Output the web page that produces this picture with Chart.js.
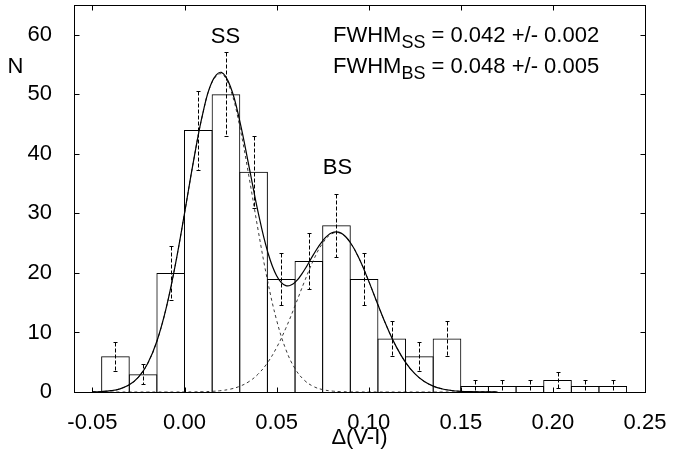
<!DOCTYPE html>
<html>
<head>
<meta charset="utf-8">
<script src="https://cdn.jsdelivr.net/npm/chart.js@4.4.0/dist/chart.umd.min.js"></script>
<style>
  html, body { margin: 0; padding: 0; background: #fff; }
</style>
</head>
<body>
<canvas id="myChart" width="678" height="460"></canvas>
<script>
// histogram: bin centres (width 0.015), counts, poisson errors
var binCenters = [-0.0375, -0.0225, -0.0075, 0.0075, 0.0225, 0.0375, 0.0525, 0.0675, 0.0825, 0.0975,
                  0.1125, 0.1275, 0.1425, 0.1575, 0.1725, 0.1875, 0.2025, 0.2175, 0.2325];
var counts = [6, 3, 20, 44, 50, 37, 19, 22, 28, 19, 9, 6, 9, 1, 1, 1, 2, 1, 1];
var errors = [2.45, 1.73, 4.47, 6.63, 7.07, 6.08, 4.36, 4.69, 5.29, 4.36, 3.00, 2.45, 3.00,
              1.00, 1.00, 1.00, 1.41, 1.00, 1.00];

// fitted curves
var fitX = [-0.05, -0.045, -0.04, -0.035, -0.03, -0.025, -0.02, -0.015, -0.01, -0.005,
            0, 0.005, 0.01, 0.015, 0.02, 0.025, 0.03, 0.035, 0.04, 0.045,
            0.05, 0.055, 0.06, 0.065, 0.07, 0.075, 0.08, 0.085, 0.09, 0.095,
            0.1, 0.105, 0.11, 0.115, 0.12, 0.125, 0.13, 0.135, 0.14, 0.145,
            0.15, 0.155, 0.16, 0.165, 0.17];
var ssFit = [0.03, 0.08, 0.22, 0.53, 1.20, 2.49, 4.80, 8.53, 14.03, 21.34,
             29.99, 38.98, 46.84, 52.04, 53.45, 50.75, 44.55, 36.16, 27.12, 18.82,
             12.07, 7.15, 3.92, 1.99, 0.93, 0.40, 0.16, 0.06, 0.02, 0.01,
             0, 0, 0, 0, 0, 0, 0, 0, 0, 0,
             0, 0, 0, 0, 0];
var bsFit = [0, 0, 0, 0, 0, 0, 0, 0, 0, 0,
             0.01, 0.02, 0.05, 0.11, 0.24, 0.49, 0.96, 1.75, 3.02, 4.89,
             7.46, 10.71, 14.49, 18.46, 22.14, 25.00, 26.58, 26.62, 25.09, 22.27,
             18.62, 14.65, 10.86, 7.58, 4.98, 3.08, 1.79, 0.98, 0.51, 0.25,
             0.11, 0.05, 0.02, 0.01, 0];
var sumFit = [0.03, 0.08, 0.22, 0.53, 1.20, 2.49, 4.80, 8.53, 14.03, 21.34,
              30.00, 39.00, 46.89, 52.15, 53.69, 51.24, 45.51, 37.91, 30.14, 23.71,
              19.53, 17.86, 18.41, 20.45, 23.07, 25.40, 26.74, 26.68, 25.11, 22.28,
              18.62, 14.65, 10.86, 7.58, 4.98, 3.08, 1.79, 0.98, 0.51, 0.25,
              0.11, 0.05, 0.02, 0.01, 0];

var xTicks = [-0.05, 0.00, 0.05, 0.10, 0.15, 0.20, 0.25];
var yTicks = [0, 10, 20, 30, 40, 50, 60];

var FONT = "'Liberation Sans', Arial, Helvetica, sans-serif";

function pts(xs, ys) {
  var out = [];
  for (var i = 0; i < xs.length; i++) out.push({x: xs[i], y: ys[i]});
  return out;
}

// error bars, frame, inward ticks and labels
var decor = {
  id: 'decor',
  afterDatasetsDraw: function(chart) {
    var ctx = chart.ctx, xs = chart.scales.x, ys = chart.scales.y;
    ctx.save();
    ctx.strokeStyle = '#000';
    ctx.lineWidth = 1;
    for (var i = 0; i < binCenters.length; i++) {
      var px = Math.round(xs.getPixelForValue(binCenters[i])) + 0.5;
      var top = Math.round(ys.getPixelForValue(counts[i] + errors[i])) + 0.5;
      var bot = Math.round(ys.getPixelForValue(Math.max(0, counts[i] - errors[i]))) + 0.5;
      ctx.setLineDash([4, 2]);
      ctx.beginPath(); ctx.moveTo(px, top); ctx.lineTo(px, bot); ctx.stroke();
      ctx.setLineDash([]);
      ctx.beginPath();
      ctx.moveTo(px - 2, top); ctx.lineTo(px + 2, top);
      ctx.moveTo(px - 2, bot); ctx.lineTo(px + 2, bot);
      ctx.stroke();
    }
    ctx.restore();
  },
  afterDraw: function(chart) {
    var ctx = chart.ctx, a = chart.chartArea, xs = chart.scales.x, ys = chart.scales.y;
    var l = Math.round(a.left) + 0.5, r = Math.round(a.right) + 0.5;
    var t = Math.round(a.top) + 0.5, b = Math.round(a.bottom) + 0.5;
    ctx.save();
    ctx.strokeStyle = '#000';
    ctx.lineWidth = 1;
    ctx.strokeRect(l, t, r - l, b - t);
    ctx.beginPath();
    xTicks.forEach(function(v) {
      var p = Math.round(xs.getPixelForValue(v)) + 0.5;
      ctx.moveTo(p, b); ctx.lineTo(p, b - 5);
      ctx.moveTo(p, t); ctx.lineTo(p, t + 5);
    });
    yTicks.forEach(function(v) {
      var p = Math.round(ys.getPixelForValue(v)) + 0.5;
      ctx.moveTo(l, p); ctx.lineTo(l + 5, p);
      ctx.moveTo(r, p); ctx.lineTo(r - 5, p);
    });
    ctx.stroke();

    ctx.fillStyle = '#000';
    ctx.textBaseline = 'alphabetic';
    ctx.font = '22px ' + FONT;
    ctx.textAlign = 'center';
    ctx.fillText('N', 15.5, 73);
    ctx.fillText('SS', 225.5, 43);
    ctx.fillText('BS', 337.5, 174);

    // FWHM lines with subscripts
    function fwhm(sub, rest, x, y) {
      ctx.textAlign = 'left';
      ctx.font = '22px ' + FONT;
      ctx.fillText('FWHM', x, y);
      x += ctx.measureText('FWHM').width;
      ctx.font = '18px ' + FONT;
      ctx.fillText(sub, x, y + 6);
      x += ctx.measureText(sub).width;
      ctx.font = '22px ' + FONT;
      ctx.fillText(rest, x, y);
    }
    fwhm('SS', ' = 0.042 +/- 0.002', 333, 42);
    fwhm('BS', ' = 0.048 +/- 0.005', 333, 73);
    ctx.restore();
  }
};

var ctx = document.getElementById('myChart').getContext('2d');
var chart = new Chart(ctx, {
  type: 'bar',
  data: {
    datasets: [
      {
        type: 'line',
        data: pts(fitX, sumFit),
        borderColor: '#000',
        borderWidth: 1.2,
        pointRadius: 0,
        tension: 0.4,
        fill: false
      },
      {
        type: 'line',
        data: pts(fitX, ssFit),
        borderColor: '#222',
        borderWidth: 0.9,
        borderDash: [3, 3],
        pointRadius: 0,
        tension: 0.4,
        fill: false
      },
      {
        type: 'line',
        data: pts(fitX, bsFit),
        borderColor: '#222',
        borderWidth: 0.9,
        borderDash: [3, 3],
        pointRadius: 0,
        tension: 0.4,
        fill: false
      },
      {
        type: 'bar',
        data: pts(binCenters, counts),
        backgroundColor: 'rgba(0,0,0,0)',
        borderColor: '#000',
        borderWidth: 1,
        borderSkipped: 'start',
        barPercentage: 1.036,
        categoryPercentage: 1
      }
    ]
  },
  options: {
    responsive: false,
    animation: false,
    layout: { padding: { left: 0, top: 5, right: 33, bottom: 0 } },
    plugins: {
      legend: { display: false },
      tooltip: { enabled: false }
    },
    scales: {
      x: {
        type: 'linear',
        min: -0.06,
        max: 0.25,
        offset: false,
        grid: { display: false },
        border: { display: false },
        ticks: {
          color: '#000',
          font: { family: FONT, size: 22 },
          padding: 10,
          maxRotation: 0,
          callback: function(v) { return v.toFixed(2); }
        },
        title: {
          display: true,
          text: 'Δ(V-I)',
          color: '#000',
          font: { family: FONT, size: 22 },
          padding: { top: 0, bottom: 9 }
        },
        afterBuildTicks: function(s) { s.ticks = xTicks.map(function(v) { return {value: v}; }); },
        afterFit: function(s) { s.height = 68; s.paddingLeft = 0; s.paddingRight = 0; }
      },
      y: {
        min: 0,
        max: 65,
        grid: { display: false },
        border: { display: false },
        ticks: {
          color: '#000',
          font: { family: FONT, size: 22 },
          padding: 14
        },
        afterBuildTicks: function(s) { s.ticks = yTicks.map(function(v) { return {value: v}; }); },
        afterFit: function(s) { s.width = 74; s.paddingTop = 0; s.paddingBottom = 0; }
      }
    }
  },
  plugins: [decor]
});
</script>
</body>
</html>
